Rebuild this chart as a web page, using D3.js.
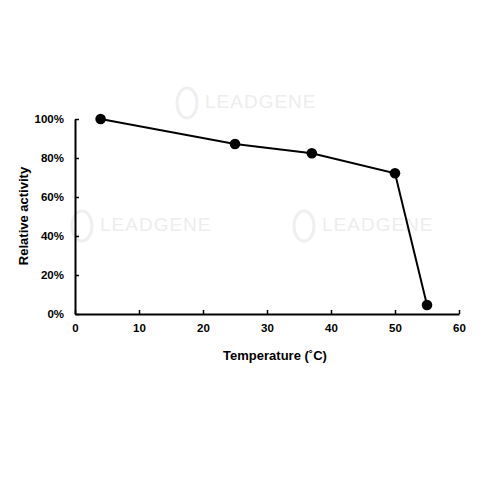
<!DOCTYPE html>
<html><head><meta charset="utf-8">
<script src="https://cdn.jsdelivr.net/npm/d3@7"></script>
<style>body{margin:0;background:#fff}svg{display:block}</style>
</head><body>
<script>
const temperatures = [4, 25, 37, 50, 55];
const activity = [1.00, 0.872, 0.824, 0.722, 0.046];
const xTicks = [0, 10, 20, 30, 40, 50, 60];
const yTicks = [0, 0.2, 0.4, 0.6, 0.8, 1.0];
const xTitle = "Temperature (˚C)";
const yTitle = "Relative activity";
const watermark = "LEADGENE";

const W = 480, H = 480;
const svg = d3.select("body").append("svg").attr("width", W).attr("height", H);

// faint watermarks (only those fully inside the picture and clear of the titles)
const wm = [[205,108],[100,231],[322,231]];
const wg = svg.append("g").attr("fill","#ededed").attr("font-family","Liberation Sans, Arial, sans-serif")
  .attr("font-size",19).attr("letter-spacing","1px");
wm.forEach(([x,y])=>{
  wg.append("text").attr("x",x).attr("y",y).text(watermark);
  wg.append("ellipse").attr("cx",x-18).attr("cy",y-5).attr("rx",10).attr("ry",15)
    .attr("fill","none").attr("stroke","#efefef").attr("stroke-width",3);
});

const x = d3.scaleLinear().domain([0, 60]).range([75, 459]);
const y = d3.scaleLinear().domain([0, 1]).range([314, 119]);

const font = "Liberation Sans, Arial, sans-serif";

const xAxis = svg.append("g").attr("transform", `translate(0,${y(0)})`)
  .call(d3.axisBottom(x).tickValues(xTicks).tickSizeInner(-4).tickSizeOuter(0).tickPadding(10).tickFormat(d3.format("d")));
const yAxis = svg.append("g").attr("transform", `translate(${x(0)},0)`)
  .call(d3.axisLeft(y).tickValues(yTicks).tickSizeInner(-4).tickSizeOuter(0).tickPadding(11).tickFormat(d3.format(".0%")));
[xAxis, yAxis].forEach(a => {
  a.select(".domain").attr("stroke", "#000").attr("stroke-width", 2);
  a.selectAll(".tick line").attr("stroke", "#000").attr("stroke-width", 1.5);
  a.selectAll("text").attr("font-family", font).attr("font-weight", "bold").attr("font-size", 11.5).attr("fill", "#000");
});

const pts = temperatures.map((t, i) => [t, activity[i]]);
svg.append("path").datum(pts)
  .attr("d", d3.line().x(d => x(d[0])).y(d => y(d[1])))
  .attr("fill", "none").attr("stroke", "#000").attr("stroke-width", 2);
svg.selectAll("circle.pt").data(pts).join("circle").attr("class","pt")
  .attr("cx", d => x(d[0])).attr("cy", d => y(d[1])).attr("r", 5.3).attr("fill", "#000");

svg.append("text").attr("x", 275).attr("y", 360).attr("text-anchor", "middle")
  .attr("font-family", font).attr("font-weight", "bold").attr("font-size", 13).text(xTitle);
svg.append("text").attr("transform", "translate(28,216) rotate(-90)").attr("text-anchor", "middle")
  .attr("font-family", font).attr("font-weight", "bold").attr("font-size", 13).text(yTitle);
</script>
</body></html>
